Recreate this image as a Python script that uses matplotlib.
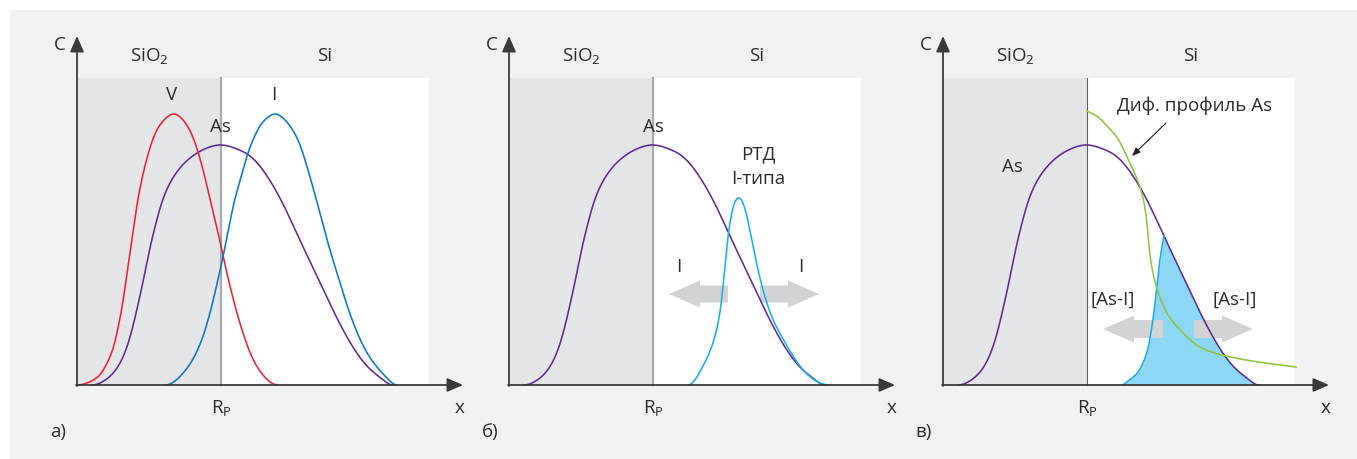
import numpy as np
import matplotlib
matplotlib.use("Agg")
import matplotlib.pyplot as plt
from matplotlib.patches import Rectangle, FancyArrow

plt.rcParams["font.family"] = ["Open Sans", "DejaVu Sans"]
plt.rcParams["mathtext.fontset"] = "custom"
plt.rcParams["mathtext.rm"] = "Open Sans"

# profiles, x = depth, y = concentration (arbitrary units, origin at the surface)
rp = 144
layer_top = 307
layer_right = 352

as_x = [15, 25, 31, 37, 45, 53, 60, 67, 73, 79, 85, 93, 103, 117, 130, 144,
        160, 173, 190, 206, 221, 237, 253, 270, 290, 305, 316]
as_y = [0, 3, 7, 13, 26, 48, 76, 108, 137, 162, 183, 202, 217, 230, 237, 240,
        236, 229, 209, 181, 149, 115, 81, 48, 19, 6, 0]

v_x = [0, 10, 18, 25, 31, 37, 42, 46, 50, 55, 60, 67, 78, 88, 97,
       106, 115, 125, 134, 142, 149, 157, 166, 175, 186, 201]
v_y = [0, 2, 6, 13, 24, 40, 62, 84, 112, 146, 180, 215, 251, 266, 271,
       265, 250, 219, 182, 148, 116, 83, 52, 28, 10, 0]

i_x = [88, 107, 125, 135, 142, 148, 157, 164, 170, 176, 183, 190, 198,
       206, 213, 218, 223, 233, 243, 251, 260, 270, 283, 292, 300, 310, 320]
i_y = [0, 13, 46, 80, 110, 138, 182, 208, 229, 245, 259, 267, 271,
       267, 259, 251, 240, 208, 172, 142, 112, 80, 46, 29, 18, 7, 0]

rtd_x = [179, 194, 206, 213, 218, 223, 229, 236, 244, 253, 261, 274, 288, 304, 321]
rtd_y = [0, 19, 49, 89, 139, 173, 187, 176, 139, 99, 73, 46, 23, 6, 0]

# rising edge of the [As-I] cluster profile
asi_x = [180, 195, 204, 209, 214, 217, 221]
asi_y = [0, 13, 33, 59, 99, 126, 149]

diff_x = [144, 155, 165, 175, 185, 194, 200, 203, 205, 207, 210, 214, 219, 225, 239, 255, 275, 309, 353]
diff_y = [274, 268, 258, 246, 226, 206, 187, 170, 150, 130, 112, 96, 82, 70, 53, 39, 31, 24, 18]

panel_origins = [77, 509, 943]
panel_letters = ["а)", "б)", "в)"]

TEXT = "#2b2b2b"
AXIS = "#3a3a3a"
RED = "#ec2139"
PURPLE = "#5c2d91"
BLUE = "#0a78c2"
LIGHTBLUE = "#17b0ea"
FILL = "#8dd7f6"
GREEN = "#8dc63f"
ARROW = "#d2d3d5"


def spline(xs, ys, n=600):
    # cubic spline through the read points, flat where the profile meets zero
    xs = np.asarray(xs, float)
    ys = np.asarray(ys, float)
    N = len(xs)
    h = np.diff(xs)
    d = np.diff(ys) / h
    A = np.zeros((N, N))
    r = np.zeros(N)
    for i in range(1, N - 1):
        A[i, i - 1] = h[i - 1]
        A[i, i] = 2 * (h[i - 1] + h[i])
        A[i, i + 1] = h[i]
        r[i] = 6 * (d[i] - d[i - 1])
    if ys[0] == 0:
        A[0, 0], A[0, 1], r[0] = 2 * h[0], h[0], 6 * d[0]
    else:
        A[0, 0] = 1
    if ys[-1] == 0:
        A[-1, -2], A[-1, -1], r[-1] = h[-1], 2 * h[-1], -6 * d[-1]
    else:
        A[-1, -1] = 1
    M = np.linalg.solve(A, r)
    xx = np.linspace(xs[0], xs[-1], n)
    i = np.clip(np.searchsorted(xs, xx) - 1, 0, N - 2)
    a = xs[i + 1] - xx
    b = xx - xs[i]
    hi = h[i]
    yy = (M[i] * a**3 + M[i + 1] * b**3) / (6 * hi) \
        + (ys[i] / hi - M[i] * hi / 6) * a + (ys[i + 1] / hi - M[i + 1] * hi / 6) * b
    return xx, np.clip(yy, 0, None)


def pchip(xs, ys, n=600):
    # monotone cubic, used for the step-like diffusion profile
    xs = np.asarray(xs, float)
    ys = np.asarray(ys, float)
    h = np.diff(xs)
    d = np.diff(ys) / h
    m = np.zeros_like(ys)
    for k in range(1, len(xs) - 1):
        if d[k - 1] * d[k] > 0:
            w1 = 2 * h[k] + h[k - 1]
            w2 = h[k] + 2 * h[k - 1]
            m[k] = (w1 + w2) / (w1 / d[k - 1] + w2 / d[k])
    m[0], m[-1] = d[0], d[-1]
    xx = np.linspace(xs[0], xs[-1], n)
    idx = np.clip(np.searchsorted(xs, xx) - 1, 0, len(h) - 1)
    t = (xx - xs[idx]) / h[idx]
    yy = (2 * t**3 - 3 * t**2 + 1) * ys[idx] + (t**3 - 2 * t**2 + t) * h[idx] * m[idx] \
        + (-2 * t**3 + 3 * t**2) * ys[idx + 1] + (t**3 - t**2) * h[idx] * m[idx + 1]
    return xx, yy


W, H = 1357, 460
fig = plt.figure(figsize=(W / 100, H / 100), dpi=100)
fig.patches.append(Rectangle((10 / W, 0), 1, (H - 11) / H, transform=fig.transFigure,
                             facecolor="#f0f1f3", edgecolor="none", zorder=-10))

xmin, xmax, ymin, ymax = -30, 395, -60, 355
axes = []
for ox in panel_origins:
    ax = fig.add_axes([(ox + xmin) / W, (H - 386 + ymin) / H, (xmax - xmin) / W, (ymax - ymin) / H])
    ax.set_xlim(xmin, xmax)
    ax.set_ylim(ymin, ymax)
    ax.axis("off")
    ax.patch.set_alpha(0)
    axes.append(ax)

lw = 1.15
fs = 13.5

for k, ax in enumerate(axes):
    # oxide / silicon layers
    ax.add_patch(Rectangle((0, 0), rp, layer_top, facecolor="#e4e5e7", edgecolor="none", zorder=1))
    ax.add_patch(Rectangle((rp, 0), layer_right - rp, layer_top, facecolor="white", edgecolor="none", zorder=1))
    if k < 2:
        ax.plot([rp, rp], [0, layer_top], color="#a9abae", lw=1.6, zorder=2)
    else:
        ax.plot([rp, rp], [0, layer_top], color="#606060", lw=0.8, zorder=2)

    # axes with arrows
    ax.annotate("", xy=(386, 0), xytext=(-1, 0),
                arrowprops=dict(arrowstyle="-|>,head_length=0.8,head_width=0.35", color=AXIS,
                                lw=1.3, shrinkA=0, shrinkB=0, mutation_scale=12), zorder=6)
    ax.annotate("", xy=(0, 349), xytext=(0, -1),
                arrowprops=dict(arrowstyle="-|>,head_length=0.8,head_width=0.35", color=AXIS,
                                lw=1.3, shrinkA=0, shrinkB=0, mutation_scale=12), zorder=6)

    ax.text(-17, 341, "C", fontsize=fs, color=TEXT, ha="center", va="center")
    ax.text(72, 329, r"SiO$_\mathregular{2}$", fontsize=fs, color=TEXT, ha="center", va="center")
    ax.text(248, 330, "Si", fontsize=fs, color=TEXT, ha="center", va="center")
    ax.text(rp, -23, r"R$_\mathregular{P}$", fontsize=fs, color=TEXT, ha="center", va="center")
    ax.text(383, -22, "x", fontsize=fs, color=TEXT, ha="center", va="center")
    ax.text(-19, -46, panel_letters[k], fontsize=fs, color=TEXT, ha="center", va="center")

    x, y = spline(as_x, as_y)
    ax.plot(x, y, color=PURPLE, lw=lw, zorder=5)

# а) vacancies and interstitials around Rp
ax = axes[0]
x, y = spline(v_x, v_y)
ax.plot(x, y, color=RED, lw=lw, zorder=5)
x, y = spline(i_x, i_y)
ax.plot(x, y, color=BLUE, lw=lw, zorder=5)
ax.text(95, 291, "V", fontsize=fs, color=TEXT, ha="center", va="center")
ax.text(197, 291, "I", fontsize=fs, color=TEXT, ha="center", va="center")
ax.text(143, 259, "As", fontsize=fs, color=TEXT, ha="center", va="center")

# б) RTD of I type
ax = axes[1]
x, y = spline(rtd_x, rtd_y)
ax.plot(x, y, color=LIGHTBLUE, lw=lw, zorder=5)
for x0, dx in [(219, -59), (251, 59)]:
    ax.add_patch(FancyArrow(x0, 91, dx, 0, width=17, head_width=27, head_length=31,
                            length_includes_head=True, color=ARROW, lw=0, zorder=3))
ax.text(144, 259, "As", fontsize=fs, color=TEXT, ha="center", va="center")
ax.text(249, 232, "РТД", fontsize=fs, color=TEXT, ha="center", va="center")
ax.text(249, 207, "I-типа", fontsize=fs, color=TEXT, ha="center", va="center")
ax.text(170, 119, "I", fontsize=fs, color=TEXT, ha="center", va="center")
ax.text(292, 119, "I", fontsize=fs, color=TEXT, ha="center", va="center")

# в) As-I clusters and the diffusion profile
ax = axes[2]
ex, ey = pchip(asi_x, asi_y)
px, py = spline(as_x, as_y)
tail = px > asi_x[-1]
fx = np.concatenate([ex, px[tail]])
fy = np.concatenate([ey, py[tail]])
ax.fill_between(fx, 0, fy, color=FILL, lw=0, zorder=2)
ax.plot(ex, ey, color=LIGHTBLUE, lw=lw, zorder=5)
for x0, dx in [(220, -60), (251, 59)]:
    ax.add_patch(FancyArrow(x0, 56, dx, 0, width=18, head_width=27, head_length=31,
                            length_includes_head=True, color=ARROW, lw=0, zorder=3))
x, y = pchip(diff_x, diff_y)
ax.plot(x, y, color=GREEN, lw=lw, zorder=5)
ax.annotate("", xy=(189, 229), xytext=(223, 262),
            arrowprops=dict(arrowstyle="-|>,head_length=0.5,head_width=0.2", color="#222222",
                            lw=0.8, shrinkA=0, shrinkB=0, mutation_scale=10), zorder=6)
ax.text(69, 219, "As", fontsize=fs, color=TEXT, ha="center", va="center")
ax.text(252, 280, "Диф. профиль As", fontsize=fs, color=TEXT, ha="center", va="center")
ax.text(170, 86, "[As-I]", fontsize=fs, color=TEXT, ha="center", va="center")
ax.text(292, 86, "[As-I]", fontsize=fs, color=TEXT, ha="center", va="center")

fig.savefig("out.png", dpi=100, facecolor="white")
